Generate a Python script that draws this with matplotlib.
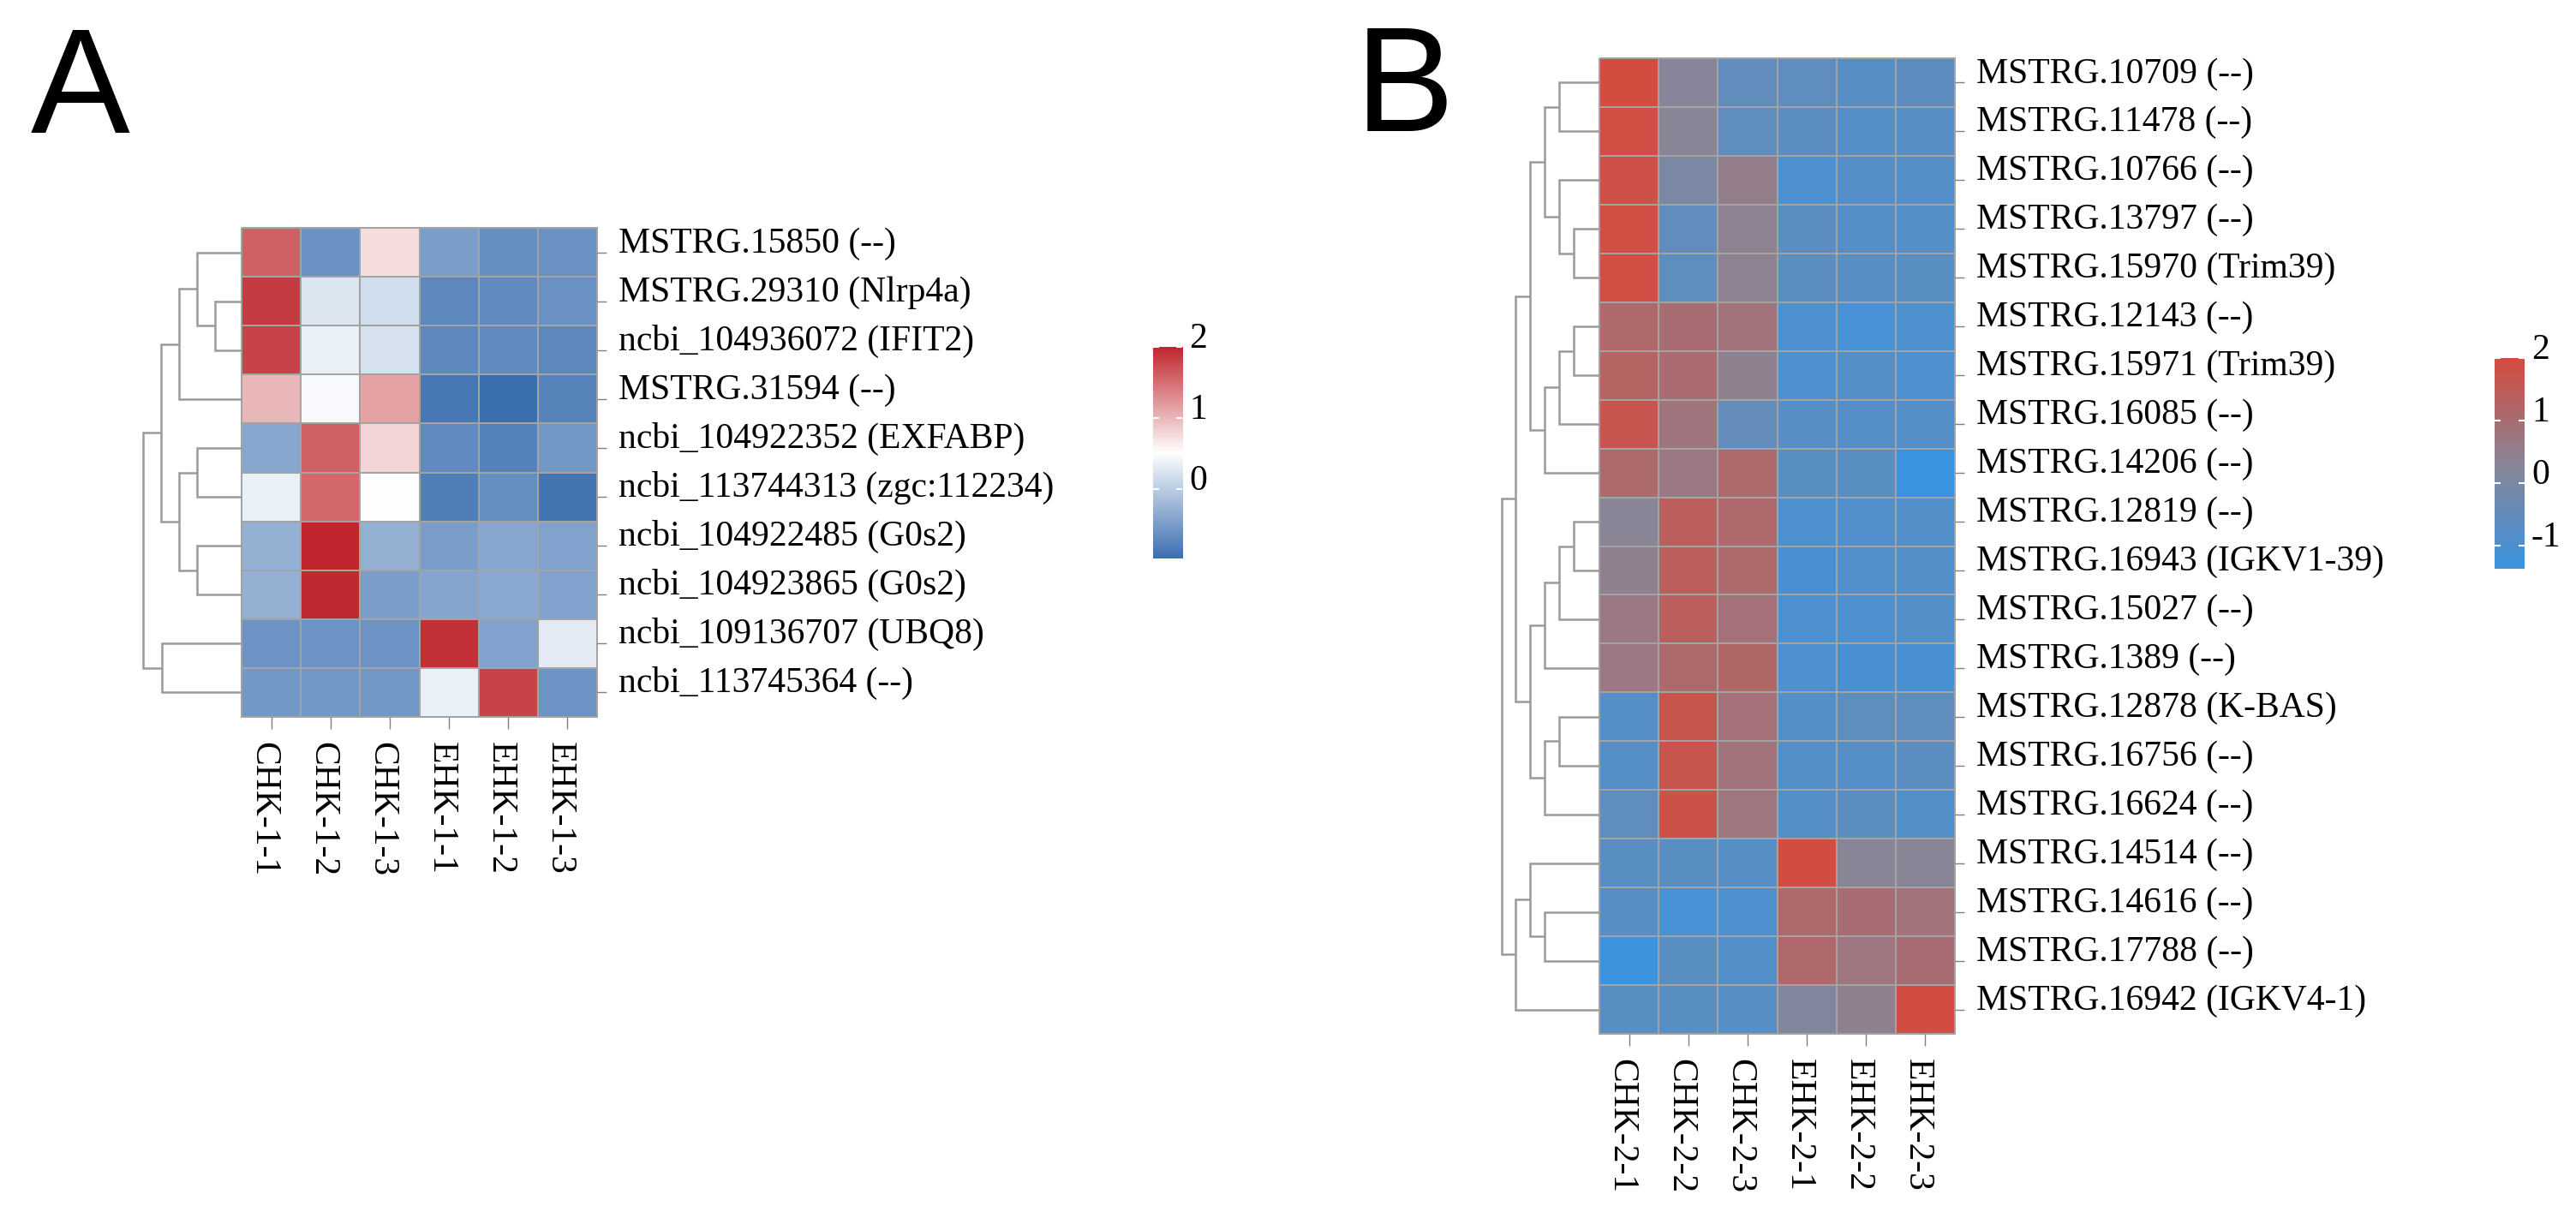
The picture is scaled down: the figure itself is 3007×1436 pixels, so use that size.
import numpy as np
from matplotlib import pyplot as plt
from matplotlib.colors import LinearSegmentedColormap, Normalize
from matplotlib.transforms import offset_copy, blended_transform_factory

W, H = 3007, 1436
SERIF = 'Liberation Serif'
GRID = '#a3a3a3'
TREE = '#9a9a9a'

# ---- panel A data ----
genes_A = ['MSTRG.15850 (--)', 'MSTRG.29310 (Nlrp4a)', 'ncbi_104936072 (IFIT2)',
           'MSTRG.31594 (--)', 'ncbi_104922352 (EXFABP)', 'ncbi_113744313 (zgc:112234)',
           'ncbi_104922485 (G0s2)', 'ncbi_104923865 (G0s2)', 'ncbi_109136707 (UBQ8)',
           'ncbi_113745364 (--)']
samples_A = ['CHK-1-1', 'CHK-1-2', 'CHK-1-3', 'EHK-1-1', 'EHK-1-2', 'EHK-1-3']
values_A = np.array([
    [1.60, -0.62, 0.75, -0.50, -0.65, -0.62],
    [1.85, 0.25, 0.15, -0.72, -0.68, -0.62],
    [1.80, 0.35, 0.20, -0.72, -0.68, -0.72],
    [1.00, 0.45, 1.15, -0.88, -0.98, -0.75],
    [-0.40, 1.60, 0.80, -0.70, -0.78, -0.55],
    [0.35, 1.55, 0.50, -0.82, -0.65, -0.92],
    [-0.30, 2.00, -0.30, -0.50, -0.40, -0.45],
    [-0.30, 1.98, -0.50, -0.42, -0.38, -0.45],
    [-0.60, -0.60, -0.60, 1.92, -0.45, 0.30],
    [-0.55, -0.55, -0.55, 0.35, 1.80, -0.60],
])
# merges: (left, right, height); ids >= n refer to earlier merges
tree_A = [(1, 2, 3.1), (0, 10, 5.2), (11, 3, 7.3), (4, 5, 5.2), (6, 7, 5.2),
          (13, 14, 7.3), (12, 15, 9.4), (8, 9, 9.3), (16, 17, 11.5)]
ticks_A = [0, 1, 2]

# ---- panel B data ----
genes_B = ['MSTRG.10709 (--)', 'MSTRG.11478 (--)', 'MSTRG.10766 (--)', 'MSTRG.13797 (--)',
           'MSTRG.15970 (Trim39)', 'MSTRG.12143 (--)', 'MSTRG.15971 (Trim39)',
           'MSTRG.16085 (--)', 'MSTRG.14206 (--)', 'MSTRG.12819 (--)',
           'MSTRG.16943 (IGKV1-39)', 'MSTRG.15027 (--)', 'MSTRG.1389 (--)',
           'MSTRG.12878 (K-BAS)', 'MSTRG.16756 (--)', 'MSTRG.16624 (--)',
           'MSTRG.14514 (--)', 'MSTRG.14616 (--)', 'MSTRG.17788 (--)',
           'MSTRG.16942 (IGKV4-1)']
samples_B = ['CHK-2-1', 'CHK-2-2', 'CHK-2-3', 'EHK-2-1', 'EHK-2-2', 'EHK-2-3']
values_B = np.array([
    [2.00, 0.25, -0.55, -0.60, -0.75, -0.62],
    [1.90, 0.30, -0.60, -0.68, -0.80, -0.75],
    [1.85, 0.00, 0.55, -1.00, -0.80, -0.80],
    [1.90, -0.55, 0.40, -0.65, -0.80, -0.80],
    [1.90, -0.60, 0.40, -0.65, -0.75, -0.70],
    [1.15, 1.00, 0.85, -1.00, -1.10, -0.95],
    [1.30, 1.05, 0.45, -0.95, -0.85, -1.00],
    [1.70, 0.80, -0.50, -0.75, -0.80, -0.80],
    [1.10, 0.70, 1.10, -0.70, -0.70, -1.37],
    [0.30, 1.40, 1.15, -0.95, -0.90, -0.85],
    [0.45, 1.40, 1.10, -1.05, -0.90, -0.85],
    [0.70, 1.40, 0.90, -1.00, -1.00, -0.85],
    [0.70, 1.10, 1.20, -1.00, -1.05, -1.05],
    [-0.80, 1.70, 0.90, -0.85, -0.60, -0.60],
    [-0.80, 1.70, 0.85, -0.85, -0.80, -0.65],
    [-0.60, 1.80, 0.75, -0.80, -0.65, -0.85],
    [-0.70, -0.70, -0.75, 1.95, 0.30, 0.30],
    [-0.75, -1.10, -0.95, 1.15, 1.00, 0.85],
    [-1.30, -0.70, -0.85, 1.15, 0.75, 1.00],
    [-0.70, -0.70, -0.75, 0.15, 0.45, 1.95],
])
tree_B = [(3, 4, 3.1), (0, 1, 4.8), (2, 20, 4.8), (21, 22, 6.5), (5, 6, 3.1),
          (24, 7, 4.8), (25, 8, 6.5), (23, 26, 8.2), (9, 10, 3.1), (28, 11, 4.8),
          (29, 12, 6.5), (13, 14, 4.8), (31, 15, 6.5), (30, 32, 8.2), (27, 33, 9.9),
          (17, 18, 6.5), (16, 35, 8.2), (36, 19, 9.9), (34, 37, 11.5)]
ticks_B = [-1, 0, 1, 2]

cmap_A = LinearSegmentedColormap.from_list('A', ['#3b6fb0', '#ffffff', '#c0262d'])
cmap_B = LinearSegmentedColormap.from_list('B', ['#3a93e0', '#8a8596', '#d44b3f'])

fig = plt.figure(figsize=(W / 100, H / 100), dpi=100)


def px_axes(x0, y0, x1, y1):
    return fig.add_axes([x0 / W, 1 - y1 / H, (x1 - x0) / W, (y1 - y0) / H])


def draw_heatmap(box, values, genes, samples, cmap, norm):
    ax = px_axes(*box)
    nr, nc = values.shape
    mesh = ax.pcolormesh(values, cmap=cmap, norm=norm, edgecolors=GRID, linewidth=1.3)
    mesh.set_clip_on(False)
    ax.set_xlim(0, nc)
    ax.set_ylim(nr, 0)
    for s in ax.spines.values():
        s.set_visible(False)
    ax.set_xticks(np.arange(nc) + 0.5)
    ax.set_yticks(np.arange(nr) + 0.5)
    ax.set_xticklabels([])
    ax.set_yticklabels([])
    ax.yaxis.tick_right()
    ax.tick_params(axis='y', length=8, width=1, color='#808080')
    ax.tick_params(axis='x', length=10, width=1, color='#808080')
    ytr = blended_transform_factory(ax.transAxes, ax.transData)
    for i, g in enumerate(genes):
        ax.text(1, i + 0.5, g, transform=offset_copy(ytr, fig=fig, x=25, y=0, units='dots'),
                ha='left', va='baseline', fontsize=30, family=SERIF)
    xtr = ax.get_xaxis_transform()
    for j, s in enumerate(samples):
        ax.text(j + 0.5, 0, s, transform=offset_copy(xtr, fig=fig, x=-9, y=-29, units='dots'),
                ha='center', va='top', rotation=-90, fontsize=30, family=SERIF)
    return ax


def draw_tree(box, merges, n, hmax):
    ax = px_axes(*box)
    pos = {i: (i + 0.5, 0.0) for i in range(n)}
    for k, (a, b, h) in enumerate(merges):
        ya, ha = pos[a]
        yb, hb = pos[b]
        ax.plot([ha, h, h, hb], [ya, ya, yb, yb], color=TREE, lw=1.8,
                solid_joinstyle='miter', solid_capstyle='butt', clip_on=False)
        pos[n + k] = ((ya + yb) / 2, h)
    ax.set_xlim(hmax, 0)
    ax.set_ylim(n, 0)
    ax.axis('off')


def draw_colorbar(box, cmap, norm, ticks):
    ax = px_axes(*box)
    grad = np.linspace(norm.vmin, norm.vmax, 256).reshape(-1, 1)
    ax.imshow(grad, cmap=cmap, norm=norm, aspect='auto', origin='lower',
              extent=[0, 1, norm.vmin, norm.vmax])
    ax.set_xlim(0, 1)
    ax.set_ylim(norm.vmin, norm.vmax)
    ax.axis('off')
    for t in ticks:
        ax.hlines(t, 0, 0.2, color='white', lw=1.5)
        ax.hlines(t, 0.8, 1, color='white', lw=1.5)
        ax.text(1, t, str(t), transform=offset_copy(ax.transData, fig=fig, x=8, y=9, units='dots'),
                ha='left', va='center', fontsize=30, family=SERIF)


norm_A = Normalize(values_A.min(), values_A.max())
norm_B = Normalize(values_B.min(), values_B.max())

draw_heatmap((282, 266, 697, 837), values_A, genes_A, samples_A, cmap_A, norm_A)
draw_tree((167, 266, 282, 837), tree_A, len(genes_A), 11.5)
draw_colorbar((1346, 405, 1380, 652), cmap_A, norm_A, ticks_A)

draw_heatmap((1867, 68, 2282, 1207), values_B, genes_B, samples_B, cmap_B, norm_B)
draw_tree((1753, 68, 1868, 1207), tree_B, len(genes_B), 11.5)
draw_colorbar((2912, 418, 2947, 664), cmap_B, norm_B, ticks_B)

fig.text(36 / W, 1 - 155 / H, 'A', fontsize=125, family='Liberation Sans', va='baseline')
fig.text(1582 / W, 1 - 153 / H, 'B', fontsize=125, family='Liberation Sans', va='baseline')

fig.savefig('out.png', dpi=100)
